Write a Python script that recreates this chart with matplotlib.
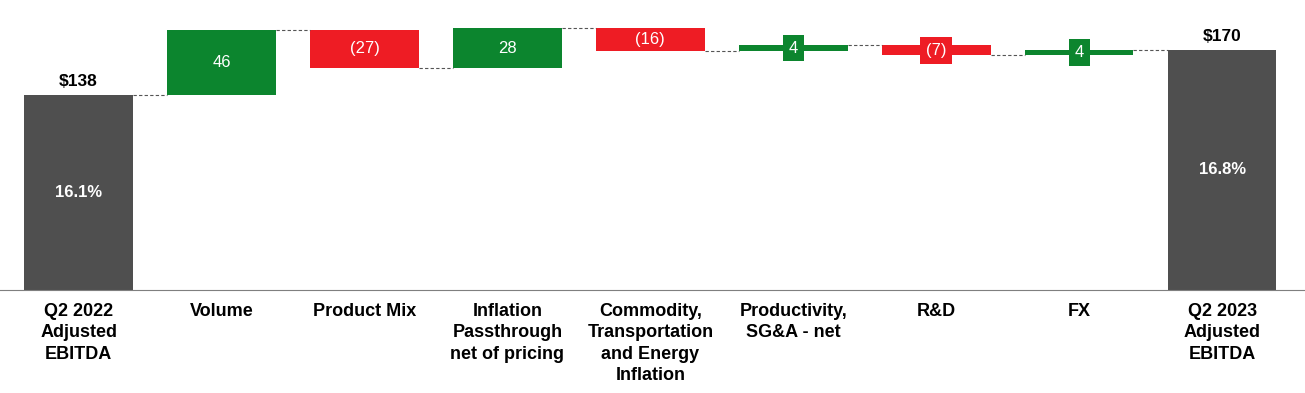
import matplotlib.pyplot as plt

plt.rcParams['font.family'] = ['Liberation Sans', 'DejaVu Sans']

# data
categories = ['Q2 2022\nAdjusted\nEBITDA', 'Volume', 'Product Mix',
              'Inflation\nPassthrough\nnet of pricing',
              'Commodity,\nTransportation\nand Energy\nInflation',
              'Productivity,\nSG&A - net', 'R&D', 'FX',
              'Q2 2023\nAdjusted\nEBITDA']
start_value = 138
changes = [46, -27, 28, -16, 4, -7, 4]
end_value = 170
margins = ['16.1%', '16.8%']

GREEN = '#0c852e'
RED = '#ee1c24'
GRAY = '#4f4f4f'
W = 0.76

fig = plt.figure(figsize=(13.05, 3.93), dpi=100)
ax = fig.add_axes([0, 0.262, 1, 0.738])

# start bar
ax.bar(0, start_value, width=W, color=GRAY)
ax.text(0, start_value / 2, margins[0], ha='center', va='center',
        color='white', fontsize=12, fontweight='bold')
ax.text(0, start_value + 4, f'${start_value}', ha='center', va='bottom',
        fontsize=12.5, fontweight='bold')

level = start_value
for i, ch in enumerate(changes, start=1):
    bottom = level if ch > 0 else level + ch
    col = GREEN if ch > 0 else RED
    ax.bar(i, abs(ch), bottom=bottom, width=W, color=col)
    lbl = str(ch) if ch > 0 else f'({-ch})'
    mid = bottom + abs(ch) / 2
    if abs(ch) < 10:
        ax.text(i, mid, lbl, ha='center', va='center', color='white',
                fontsize=12, bbox=dict(boxstyle='square,pad=0.35', fc=col, ec='none'))
    else:
        ax.text(i, mid, lbl, ha='center', va='center', color='white', fontsize=12)
    # connector from previous bar
    ax.plot([i - 1 + W / 2, i - W / 2], [level, level], ls=(0, (3, 2)),
            color='#555555', lw=0.8)
    level += ch

n = len(changes) + 1
ax.plot([n - 1 + W / 2, n - W / 2], [level, level], ls=(0, (3, 2)),
        color='#555555', lw=0.8)

# end bar
ax.bar(n, end_value, width=W, color=GRAY)
ax.text(n, end_value / 2, margins[1], ha='center', va='center',
        color='white', fontsize=12, fontweight='bold')
ax.text(n, end_value + 4, f'${end_value}', ha='center', va='bottom',
        fontsize=12.5, fontweight='bold')

ax.set_xlim(-0.55, 8.58)
ax.set_ylim(0, 205)
for s in ['top', 'right', 'left']:
    ax.spines[s].set_visible(False)
ax.spines['bottom'].set_color('#7f7f7f')
ax.set_yticks([])
ax.set_xticks(range(len(categories)))
ax.set_xticklabels(categories, fontsize=13, fontweight='bold', linespacing=1.35)
ax.tick_params(axis='x', length=0, pad=9)

fig.savefig('out.png', dpi=100)
